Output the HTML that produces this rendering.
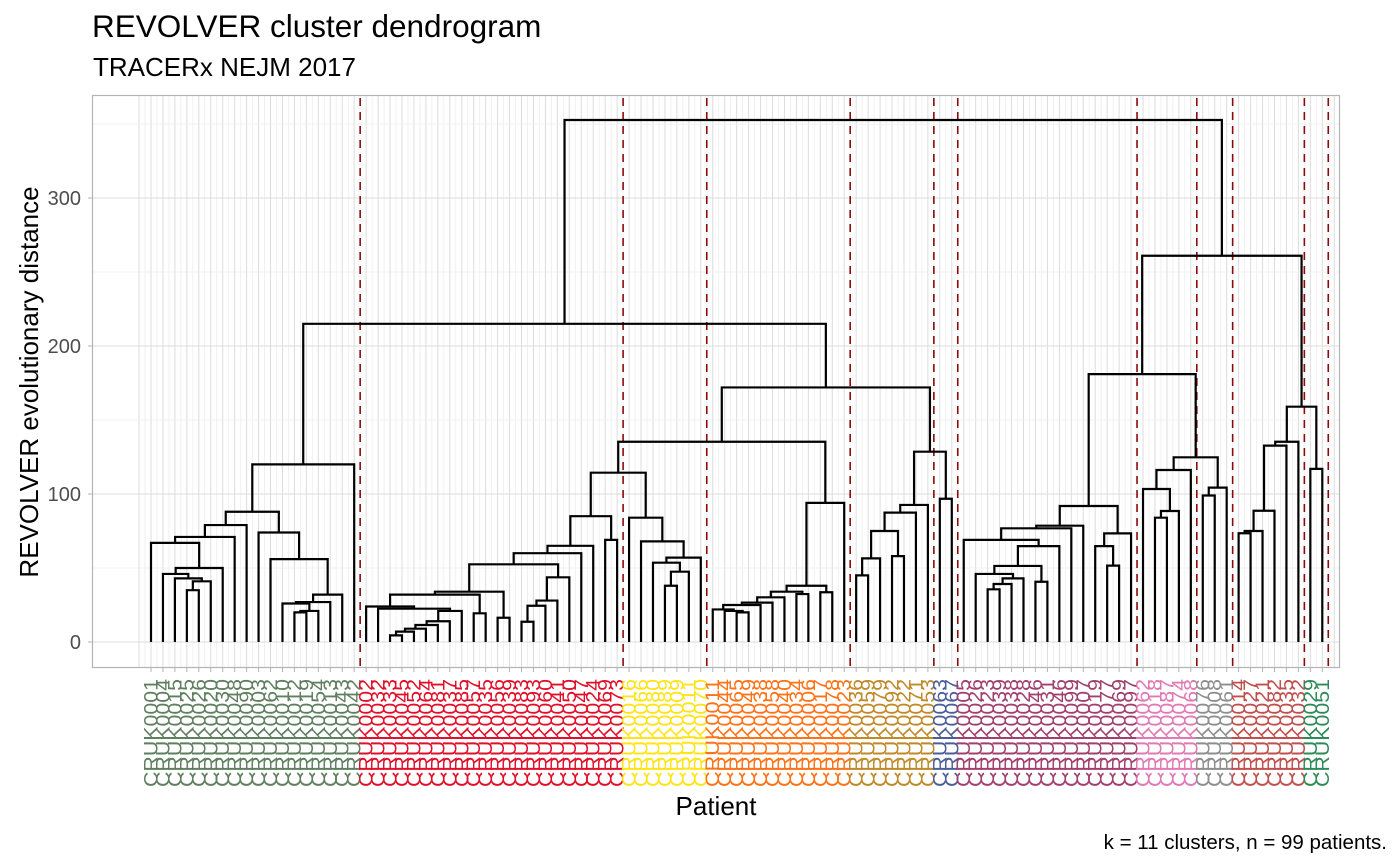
<!DOCTYPE html>
<html><head><meta charset="utf-8"><style>
html,body{margin:0;padding:0;background:#fff;}
svg{display:block;font-family:"Liberation Sans",Arial,sans-serif;}
</style></head><body>
<svg id="chart" width="1400" height="866" viewBox="0 0 1400 866">
<text x="92" y="37" font-size="31.5" fill="#000">REVOLVER cluster dendrogram</text>
<text x="93" y="76" font-size="26" fill="#000">TRACERx NEJM 2017</text>
<rect x="92.5" y="95.5" width="1247" height="572" fill="#fff"/>
<g id="grid"></g>
<g id="dashes"></g>
<g id="tree"></g>
<rect x="92.5" y="95.5" width="1247" height="572" fill="none" stroke="#B3B3B3" stroke-width="1.2"/>
<g id="yaxis"></g>
<g id="xaxis"></g>
<text transform="translate(38,382) rotate(-90)" text-anchor="middle" font-size="26" fill="#000">REVOLVER evolutionary distance</text>
<text x="716" y="815" text-anchor="middle" font-size="26" fill="#000">Patient</text>
<text x="1387" y="849" text-anchor="end" font-size="20.5" fill="#000">k = 11 clusters, n = 99 patients.</text>
</svg>
<script>
// ---- data ----
const clusterSizes = [18,22,7,12,7,2,15,5,3,6,2];
const clusterColors = ['#5F7F5F','#E0102A','#FFE419','#FF7318','#C08A28','#4B5E99','#A1406F','#E079B6','#8E8E8E','#C0504D','#2E8B57'];
const yTicks = [0,100,200,300];
const yMinor = [50,150,250,350];
const leafLabels = ['CRUK0001','CRUK0004','CRUK0015','CRUK0025','CRUK0026','CRUK0020','CRUK0030','CRUK0048','CRUK0090','CRUK0003','CRUK0062','CRUK0010','CRUK0012','CRUK0019','CRUK0054','CRUK0013','CRUK0043','CRUK0042',
'CRUK0002','CRUK0032','CRUK0033','CRUK0045','CRUK0052','CRUK0064','CRUK0081','CRUK0037','CRUK0085','CRUK0057','CRUK0035','CRUK0056','CRUK0039','CRUK0083','CRUK0093','CRUK0060','CRUK0041','CRUK0050','CRUK0047','CRUK0024','CRUK0069','CRUK0073',
'CRUK0016','CRUK0066','CRUK0080','CRUK0089','CRUK0009','CRUK0011','CRUK0070',
'CRUK0011','CRUK0044','CRUK0065','CRUK0049','CRUK0038','CRUK0058','CRUK0040','CRUK0034','CRUK0006','CRUK0017','CRUK0078','CRUK0023',
'CRUK0036','CRUK0059','CRUK0079','CRUK0092','CRUK0022','CRUK0071','CRUK0053',
'CRUK0063','CRUK0067',
'CRUK0005','CRUK0026','CRUK0023','CRUK0039','CRUK0038','CRUK0028','CRUK0046','CRUK0031','CRUK0046','CRUK0099','CRUK0007','CRUK0019','CRUK0077','CRUK0069','CRUK0097',
'CRUK0062','CRUK0018','CRUK0087','CRUK0074','CRUK0068',
'CRUK0076','CRUK0008','CRUK0061',
'CRUK0014','CRUK0027','CRUK0021','CRUK0082','CRUK0035','CRUK0032',
'CRUK0029','CRUK0051'];
// node = [mergeHeight, left, right]; integer = leaf index
const A_left = [79,[71,[67,0,[50,[46,1,[43,2,[41,[35,3,4],5]]],6]],7],8];
const A_right = [74,9,[56,10,[32,[27,[26,11,[21,[20,12,13],14]],15],16]]];
const A = [120,[88,A_left,A_right],17];
const B_left = [24,18,[22.5,19,[21,[14,[11.5,[9,[7,[4.5,20,21],22],23],24],25],26]]];
const B_mid = [52.5,[34,[32,B_left,[19.4,27,28]],[16.4,29,30]],[43.7,[28,[24.5,[13.7,31,32],33],34],35]];
const B = [85,[65,[60,B_mid,36],37],[69,38,39]];
const C = [84,40,[68,41,[57,[53.6,42,[47.5,[38,43,44],45]],46]]];
const D = [94,[38,[34,[30.2,[26.6,[25,[22,47,[21,48,[20,49,50]]],51],52],53],[32.4,54,55]],[33.6,56,57]],58];
const E = [92.6,[87.4,[75,[56.5,[45,59,60],61],[58,62,63]],64],65];
const F1 = [78.6,[76.8,[69,68,[64.8,[51.4,[46,69,[43,[39.2,[35.6,70,71],72],73]],[40.7,74,75]],76]],77],78];
const F2 = [73.4,[64.8,79,[51.6,80,81]],82];
const G = [116.2,[103.4,83,[88.5,[84,84,85],86]],87];
const H = [104.3,[99,88,89],90];
const I = [135.3,[132.7,[88.7,[75,[73.5,91,92],93],94],95],96];
const J = [117,97,98];
const tree = [352.7,[215,A,[172,[135.3,[114.4,B,C],D],[128.6,E,[96.8,66,67]]]],[261,[181,[91.9,F1,F2],[124.8,G,H]],[159,I,J]]];

// ---- scales ----
const NS='http://www.w3.org/2000/svg';
const X0=151, DX=11.952;
const xs = i => X0 + i*DX;
const ys = v => 642 - v*1.48;
function mk(tag, attrs, parent){const e=document.createElementNS(NS,tag);for(const k in attrs)e.setAttribute(k,attrs[k]);parent.appendChild(e);return e;}
const grid=document.getElementById('grid'), dashes=document.getElementById('dashes'), treeG=document.getElementById('tree');
const yax=document.getElementById('yaxis'), xax=document.getElementById('xaxis');
const nLeaves = leafLabels.length;

for(let k=-2;k<=2*nLeaves;k++){
  const x=xs(k/2);
  if(x<93||x>1339) continue;
  const g=mk('line',{x1:x,x2:x,y1:96,y2:667,stroke:k%2===0?'#DCDCDC':'#EDEDED','stroke-width':k%2===0?1:0.8},grid);
  
  
}
yMinor.forEach(v=>{const l=mk('line',{x1:93,x2:1339,y1:ys(v),y2:ys(v),stroke:'#EDEDED','stroke-width':0.8},grid);
  
  });
yTicks.forEach(v=>{const l=mk('line',{x1:93,x2:1339,y1:ys(v),y2:ys(v),stroke:'#DCDCDC','stroke-width':1.1},grid);
  
  
  const t=mk('line',{x1:88,x2:92,y1:ys(v),y2:ys(v),stroke:'#B3B3B3','stroke-width':1},yax);
  
  
  const tx=mk('text',{x:81,y:ys(v)+7,'text-anchor':'end','font-size':20,fill:'#4D4D4D'},yax);
  tx.textContent=v;
  
  
});

let order=0;
function layout(n){
  if(typeof n==='number'){const p={x:xs(order++),h:0,leaf:n};return p;}
  const L=layout(n[1]), R=layout(n[2]);
  const h=n[0], x=(L.x+R.x)/2;
  const d=`M${L.x},${ys(L.h)}V${ys(h)}H${R.x}V${ys(R.h)}`;
  const p=mk('path',{d:d,fill:'none',stroke:'#000','stroke-width':2.2,'stroke-linejoin':'miter'},treeG);
  
  
  return {x:x,h:h};
}
layout(tree);

const leafColor=[];
let acc=0;
clusterSizes.forEach((s,c)=>{
  for(let i=0;i<s;i++) leafColor.push(clusterColors[c]);
  acc+=s;
  const x=xs(acc-0.5);
  const l=mk('line',{x1:x,x2:x,y1:96,y2:667,stroke:'#8B0A0A','stroke-width':1.6,'stroke-dasharray':'8,6','stroke-dashoffset':-2},dashes);
  
  
});

leafLabels.forEach((lab,i)=>{
  const x=xs(i);
  const t=mk('line',{x1:x,x2:x,y1:668,y2:672,stroke:'#B3B3B3','stroke-width':1},xax);
  
  
  const tx=mk('text',{transform:`translate(${x+6.5},679) rotate(-90)`,'text-anchor':'end','font-size':19,fill:leafColor[i],textLength:108,lengthAdjust:'spacingAndGlyphs'},xax);
  tx.textContent=lab;
  
  
});
</script>
</body></html>
